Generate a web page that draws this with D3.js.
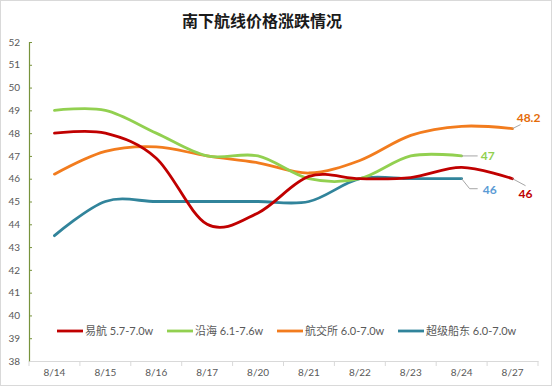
<!DOCTYPE html>
<html>
<head>
<meta charset="utf-8">
<script src="https://cdn.jsdelivr.net/npm/d3@7"></script>
<style>
body { margin: 0; background: #fff; }
svg { display: block; font-family: Lato, "Noto Sans CJK SC", sans-serif; }
</style>
</head>
<body>
<div id="chart"></div>
<script>
var dates = ["8/14", "8/15", "8/16", "8/17", "8/20", "8/21", "8/22", "8/23", "8/24", "8/27"];
var yiHang = [48, 48, 46.9, 44, 44.5, 46.1, 46, 46.05, 46.5, 46];
var yanHai = [49, 49, 48, 47, 47, 46, 46, 47, 47, null];
var hangJiaoSuo = [46.2, 47.2, 47.4, 47, 46.7, 46.25, 46.8, 47.9, 48.3, 48.2];
var chaoJiChuanDong = [43.5, 45, 45, 45, 45, 45, 46, 46, 46, null];
var seriesNames = ["易航 5.7-7.0w", "沿海 6.1-7.6w", "航交所 6.0-7.0w", "超级船东 6.0-7.0w"];
var yTicks = [38, 39, 40, 41, 42, 43, 44, 45, 46, 47, 48, 49, 50, 51, 52];

var colors = ["#c00000", "#92d050", "#f27c1e", "#31849b"];
var labelColors = ["#c00000", "#92d050", "#e46c0a", "#5b9bd5"];

function render(id_name){
    var width = 553, height = 387;
    var svg = d3.select(id_name).append("svg")
        .attr("width", width)
        .attr("height", height);

    // outer border
    svg.append("rect")
        .attr("x", 0.5).attr("y", 0.5)
        .attr("width", width - 2).attr("height", height - 2)
        .attr("fill", "#fff")
        .attr("stroke", "#d9d9d9");

    svg.append("text")
        .attr("x", 262)
        .attr("y", 27)
        .attr("text-anchor", "middle")
        .style("font-family", "'Noto Sans CJK SC'")
        .style("font-size", "16px")
        .style("font-weight", "bold")
        .attr("fill", "#1a1a1a")
        .text("南下航线价格涨跌情况");

    var x = d3.scaleBand().domain(dates).range([29, 538]).padding(0);
    var y = d3.scaleLinear().domain([38, 52]).range([361, 42]);

    // y axis
    var yAxis = svg.append("g")
        .attr("transform", "translate(29,0)")
        .call(d3.axisLeft(y).tickValues(yTicks).tickSize(-3).tickPadding(9));
    yAxis.select(".domain").attr("stroke", "#77933c").attr("stroke-width", 1.2);
    yAxis.selectAll(".tick line").attr("stroke", "#77933c");
    yAxis.selectAll("text")
        .attr("fill", "#595959")
        .style("font-size", "10px")
        .style("font-family", "Lato, sans-serif");

    // x axis
    var xAxis = svg.append("g")
        .attr("transform", "translate(0,361)")
        .call(d3.axisBottom(x).tickSize(0).tickPadding(8));
    xAxis.select(".domain").attr("stroke", "#d9d9d9");
    xAxis.selectAll("text")
        .attr("fill", "#595959")
        .style("font-size", "10px")
        .style("font-family", "Lato, sans-serif");
    xAxis.selectAll(".boundary")
        .data(dates.concat(["end"]))
        .enter()
        .append("line")
            .attr("class", "boundary")
            .attr("x1", function(d, i){ return 29 + i * x.step(); })
            .attr("x2", function(d, i){ return 29 + i * x.step(); })
            .attr("y1", 0)
            .attr("y2", 5)
            .attr("stroke", "#d9d9d9");

    var allSeries = [yiHang, yanHai, hangJiaoSuo, chaoJiChuanDong];
    var line = d3.line()
        .defined(function(d){ return d.v !== null; })
        .x(function(d){ return x(d.date) + x.bandwidth() / 2; })
        .y(function(d){ return y(d.v); })
        .curve(d3.curveCatmullRom.alpha(0));

    // draw in z-order seen in the picture
    [3, 2, 1, 0].forEach(function(s){
        var pts = dates.map(function(d, i){ return {date: d, v: allSeries[s][i]}; })
            .filter(function(p){ return p.v !== null; });
        svg.append("path")
            .datum(pts)
            .attr("fill", "none")
            .attr("stroke", colors[s])
            .attr("stroke-width", 2.8)
            .attr("stroke-linecap", "round")
            .attr("d", line);
    });

    // end labels with leader lines
    var cx = function(d){ return x(d) + x.bandwidth() / 2; };
    var endLabels = [
        {s: 2, date: "8/27", v: 48.2, text: "48.2", path: [[0, 0], [8, -4]], tx: 16, ty: -11},
        {s: 1, date: "8/24", v: 47, text: "47", path: [[0, 0], [16, 0]], tx: 26, ty: 0},
        {s: 3, date: "8/24", v: 46, text: "46", path: [[0, 0], [8, 10], [16, 10]], tx: 28, ty: 11},
        {s: 0, date: "8/27", v: 46, text: "46", path: [[0, 0], [13, 7]], tx: 13, ty: 15}
    ];
    endLabels.forEach(function(l){
        var x0 = cx(l.date), y0 = y(l.v);
        svg.append("path")
            .attr("fill", "none")
            .attr("stroke", "#a6a6a6")
            .attr("stroke-width", 1)
            .attr("d", d3.line()(l.path.map(function(p){ return [x0 + p[0], y0 + p[1]]; })));
        svg.append("text")
            .attr("x", x0 + l.tx)
            .attr("y", y0 + l.ty)
            .attr("dy", "0.35em")
            .attr("text-anchor", "middle")
            .attr("fill", labelColors[l.s])
            .style("font-size", "12px")
            .style("font-weight", "bold")
            .text(l.text);
    });

    // legend
    var legendX = [57, 167, 277, 398];
    var legend = svg.selectAll(".legend")
        .data(seriesNames)
        .enter()
        .append("g")
            .attr("class", "legend")
            .attr("transform", function(d, i){ return "translate(" + legendX[i] + ",331)"; });
    legend.append("line")
        .attr("x1", 0).attr("x2", 26)
        .attr("y1", 0).attr("y2", 0)
        .attr("stroke", function(d, i){ return colors[i]; })
        .attr("stroke-width", 2.8);
    legend.append("text")
        .attr("x", 28)
        .attr("y", 0)
        .attr("dy", "0.35em")
        .attr("fill", "#595959")
        .style("font-size", "11px")
        .text(function(d){ return d; });
}

render("#chart");
</script>
</body>
</html>
